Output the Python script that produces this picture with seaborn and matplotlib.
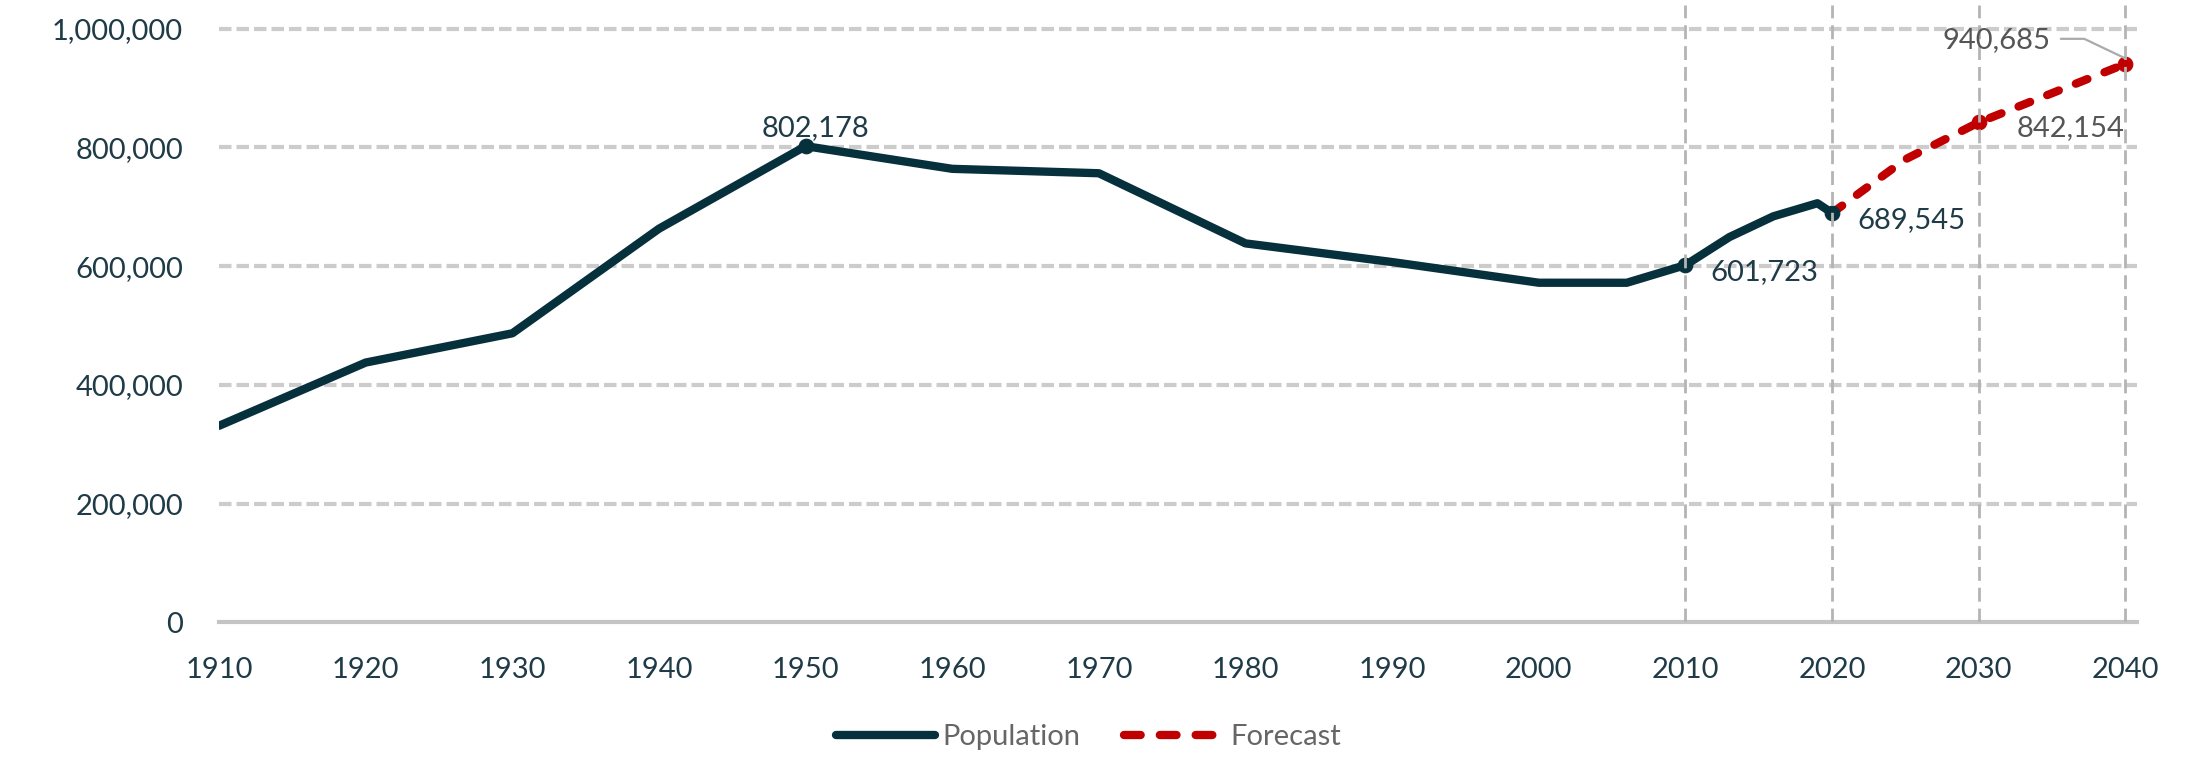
import matplotlib
matplotlib.use("Agg")
import matplotlib.pyplot as plt
from matplotlib.ticker import FuncFormatter, MultipleLocator
import seaborn as sns
import pandas as pd

# population history (census + estimates)
pop_years = [1910, 1920, 1930, 1940, 1950, 1960, 1970, 1980, 1990, 2000,
             2006, 2010, 2013, 2016, 2019, 2020]
pop_values = [331069, 437571, 486869, 663091, 802178, 763956, 756510, 638333,
              606900, 572059, 572000, 601723, 649000, 684000, 706000, 689545]

# forecast
fc_years = [2020, 2025, 2030, 2040]
fc_values = [689545, 780000, 842154, 940685]

# labelled points
pop_marked = [1950, 2010, 2020]
fc_marked = [2030, 2040]

y_ticks = [0, 200000, 400000, 600000, 800000, 1000000]
x_ticks = list(range(1910, 2041, 10))
v_lines = [2010, 2020, 2030, 2040]

navy = "#06303c"
red = "#c00000"
label_dark = "#1f3b47"
label_gray = "#555555"

sns.set_style("white")
plt.rcParams["font.family"] = ["Lato", "DejaVu Sans"]

pop = pd.DataFrame({"year": pop_years, "value": pop_values})
fc = pd.DataFrame({"year": fc_years, "value": fc_values})

fig = plt.figure(figsize=(21.93, 7.57), dpi=100)
ax = fig.add_axes([0.0999, 0.178, 0.8746, 0.8154])

# horizontal grid
for yv in y_ticks[1:]:
    ax.axhline(yv, color="#cccccc", lw=3, dashes=(3, 1.2), zorder=1)

sns.lineplot(data=pop, x="year", y="value", ax=ax, color=navy, lw=6,
             label="Population", zorder=2, solid_capstyle="round",
             solid_joinstyle="round")
sns.lineplot(data=fc, x="year", y="value", ax=ax, color=red, lw=6,
             label="Forecast", zorder=2.5, dashes=False)
ax.lines[-1].set_dashes((1.5, 2.2))
ax.lines[-1].set_dash_capstyle("round")

pm = pop[pop.year.isin(pop_marked)]
fm = fc[fc.year.isin(fc_marked)]
sns.scatterplot(data=pm, x="year", y="value", ax=ax, color=navy, s=110,
                edgecolor=navy, zorder=3, legend=False)
sns.scatterplot(data=fm, x="year", y="value", ax=ax, color=red, s=110,
                edgecolor=red, zorder=3, legend=False)

for xv in v_lines:
    ax.axvline(xv, color="#b4b4b4", lw=2, dashes=(5, 2.5), zorder=3.5)

fs = 21
# value labels
ax.annotate(f"{pop_values[4]:,}", (1950, pop_values[4]), xytext=(7, 13),
            textcoords="offset points", ha="center", va="center",
            fontsize=fs, color=label_dark, zorder=5)
for yr, val in [(2010, 601723), (2020, 689545)]:
    ax.annotate(f"{val:,}", (yr, val), xytext=(18, -5),
                textcoords="offset points", ha="left", va="center",
                fontsize=fs, color=label_dark, zorder=5)
ax.annotate(f"{fc_values[2]:,}", (2030, fc_values[2]), xytext=(27, -4),
            textcoords="offset points", ha="left", va="center",
            fontsize=fs, color=label_gray, zorder=5)
ax.annotate(f"{fc_values[3]:,}", (2040, fc_values[3]), xytext=(-54, 17),
            textcoords="offset points", ha="right", va="center",
            fontsize=fs, color=label_gray, zorder=5)
ax.plot([2035.6, 2037.2, 2040], [983000, 983000, 950000],
        color="#aaaaaa", lw=1.6, zorder=4)

ax.set_xlim(1910, 2040.8)
ax.set_ylim(0, 1040000)
ax.set_yticks(y_ticks)
ax.yaxis.set_major_formatter(FuncFormatter(lambda v, p: f"{int(v):,}"))
ax.set_xticks(x_ticks)
ax.xaxis.set_minor_locator(MultipleLocator(5))
ax.set_xlabel("")
ax.set_ylabel("")

for s in ["top", "right", "left"]:
    ax.spines[s].set_visible(False)
ax.spines["bottom"].set_color("#c4c4c4")
ax.spines["bottom"].set_linewidth(3)

ax.tick_params(axis="y", length=0, pad=26, labelsize=fs, labelcolor=label_dark)
ax.tick_params(axis="x", which="major", direction="out", length=9, width=2,
               color="#c4c4c4", pad=16, labelsize=fs, labelcolor=label_dark)
ax.tick_params(axis="x", which="minor", direction="out", length=5, width=2,
               color="#c4c4c4")

leg = ax.legend(loc="center", bbox_to_anchor=(0.4965, 0.026),
                bbox_transform=fig.transFigure, ncol=2,
                frameon=False, fontsize=fs, handlelength=3.4,
                handletextpad=0.25, columnspacing=1.5)
for t in leg.get_texts():
    t.set_color("#666666")
leg.get_lines()[1].set_dashes((2.0, 2.3))
leg.get_lines()[1].set_dash_capstyle("round")
leg.get_lines()[0].set_solid_capstyle("round")

fig.savefig("out.png", dpi=100, facecolor="white")
